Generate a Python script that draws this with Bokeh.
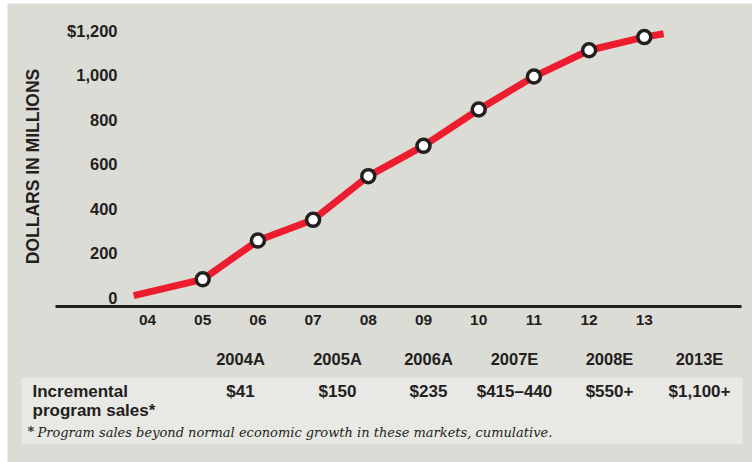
from bokeh.plotting import figure
from bokeh.models import Range1d, FixedTicker
from bokeh.embed import file_html
from bokeh.resources import INLINE
from bokeh.core.properties import value

# ---------------- data ----------------
line_years = [2003.75, 2005, 2006, 2007, 2008, 2009, 2010, 2011, 2012, 2013, 2013.35]
line_values = [11, 84, 258, 351, 547, 683, 846, 994, 1112, 1171, 1186]
marker_years = [2005, 2006, 2007, 2008, 2009, 2010, 2011, 2012, 2013]
marker_values = [84, 258, 351, 547, 683, 846, 994, 1112, 1171]
tick_years = [2004, 2005, 2006, 2007, 2008, 2009, 2010, 2011, 2012, 2013]
tick_year_labels = ["04", "05", "06", "07", "08", "09", "10", "11", "12", "13"]
y_ticks = [0, 200, 400, 600, 800, 1000, 1200]
y_tick_labels = ["0", "200", "400", "600", "800", "1,000", "$1,200"]
y_title = "DOLLARS IN MILLIONS"

table_years = ["2004A", "2005A", "2006A", "2007E", "2008E", "2013E"]
table_sales = ["$41", "$150", "$235", "$415\u2013440", "$550+", "$1,100+"]
row_title = ["Incremental", "program sales*"]
footnote_mark = "*"
footnote = "Program sales beyond normal economic growth in these markets, cumulative."

# ---------------- style / layout ----------------
BG = "#dcdcd7"
BAND = "#e8e8e4"
INK = "#231f20"
RED = "#ed1c2e"
SANS = "Liberation Sans"

W, H = 745, 459            # gray panel (page offset 7px left, 3px top)
LEFT, TOP = 7, 3           # page offset of the panel
PX_PER_YEAR = 55.2
X0_YEAR, X0_PX = 2004, 147     # page x of year 2004
PX_PER_UNIT = 0.2228
Y0_PX = 297.5                  # page y of value 0
AXIS_PX = 306                  # page y of the x-axis rule
AXIS_X = (55, 741)             # page x extent of the x-axis rule
YLAB_PX = 121                  # page x of y tick label anchor


def yr(px):
    return X0_YEAR + (px - X0_PX) / PX_PER_YEAR


def val(py):
    return (Y0_PX - py) / PX_PER_UNIT


p = figure(width=W, height=H, output_backend="svg", toolbar_location=None,
           x_range=Range1d(yr(LEFT), yr(LEFT + W)),
           y_range=Range1d(val(TOP + H), val(TOP)),
           min_border=0, margin=(TOP, 0, 0, LEFT))
p.extra_x_ranges = {"px": Range1d(LEFT, LEFT + W)}
p.extra_y_ranges = {"px": Range1d(TOP + H, TOP)}
p.background_fill_color = BG
p.border_fill_color = BG
p.outline_line_color = None
p.grid.visible = False

xa = p.xaxis[0]
xa.fixed_location = val(AXIS_PX)
xa.bounds = (yr(AXIS_X[0]), yr(AXIS_X[1]))
xa.ticker = FixedTicker(ticks=tick_years)
xa.major_label_overrides = {y: l for y, l in zip(tick_years, tick_year_labels)}
xa.axis_line_color = INK
xa.axis_line_width = 3
xa.major_tick_line_color = None
xa.minor_tick_line_color = None
xa.major_tick_out = 0
xa.major_tick_in = 0
xa.major_label_standoff = 8
xa.major_label_text_font = SANS
xa.major_label_text_font_style = "bold"
xa.major_label_text_font_size = "15.5px"
xa.major_label_text_color = INK

ya = p.yaxis[0]
ya.fixed_location = yr(YLAB_PX)
ya.bounds = (-20, 1200)
ya.ticker = FixedTicker(ticks=y_ticks)
ya.major_label_overrides = {v: l for v, l in zip(y_ticks, y_tick_labels)}
ya.axis_line_color = None
ya.major_tick_line_color = None
ya.minor_tick_line_color = None
ya.major_tick_out = 0
ya.major_tick_in = 0
ya.major_label_standoff = 4
ya.major_label_text_font = SANS
ya.major_label_text_font_style = "bold"
ya.major_label_text_font_size = "16.5px"
ya.major_label_text_color = INK
ya.axis_label = y_title
ya.axis_label_text_font = SANS
ya.axis_label_text_font_style = "bold"
ya.axis_label_text_font_size = "17.5px"
ya.axis_label_text_color = INK
ya.axis_label_standoff = 21

# table band (page-pixel ranges)
p.quad(left=[21], right=[742], top=[377], bottom=[444], fill_color=BAND, line_color=None,
       x_range_name="px", y_range_name="px")

p.line(line_years, line_values, line_color=RED, line_width=7,
       line_cap="butt", line_join="round")
p.scatter(marker_years, marker_values, size=13, fill_color="white",
          line_color=INK, line_width=3.5)

col_x = [240, 337, 428, 514, 609, 699]
txt = dict(x_range_name="px", y_range_name="px", text_font=value(SANS),
           text_font_style="bold", text_color=INK, text_baseline="middle")
p.text(x=col_x, y=[358] * len(table_years), text=table_years,
       text_font_size="16.5px", text_align="center", **txt)
p.text(x=col_x, y=[391] * len(table_sales), text=table_sales,
       text_font_size="17px", text_align="center", **txt)
p.text(x=[32, 32], y=[391, 410], text=row_title,
       text_font_size="17px", text_align="left", **txt)
p.text(x=[27], y=[431], text=[footnote_mark], x_range_name="px", y_range_name="px",
       text_font=value("DejaVu Serif"), text_font_style="bold", text_font_size="13px",
       text_color=INK, text_align="left", text_baseline="middle")
p.text(x=[37], y=[432], text=[footnote], x_range_name="px", y_range_name="px",
       text_font=value("DejaVu Serif"), text_font_style="italic", text_font_size="13px",
       text_color=INK, text_align="left", text_baseline="middle")

open("out.html", "w").write(file_html(p, INLINE))
